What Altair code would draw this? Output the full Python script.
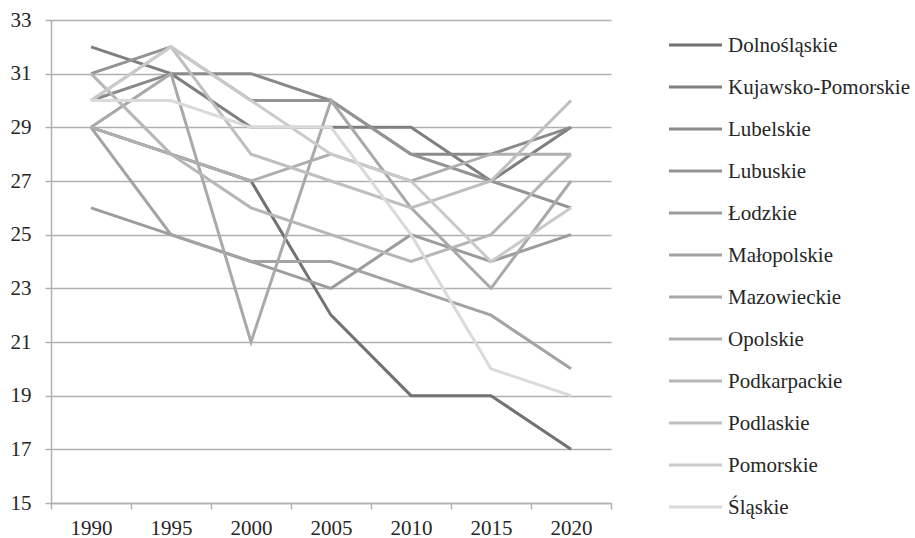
import altair as alt
import pandas as pd

years = ["1990", "1995", "2000", "2005", "2010", "2015", "2020"]

regions = [
    "Dolnośląskie", "Kujawsko-Pomorskie", "Lubelskie", "Lubuskie",
    "Łodzkie", "Małopolskie", "Mazowieckie", "Opolskie",
    "Podkarpackie", "Podlaskie", "Pomorskie", "Śląskie",
]

dolnoslaskie = [29, 28, 27, 22, 19, 19, 17]
kujawsko_pomorskie = [32, 31, 29, 29, 29, 27, 29]
lubelskie = [30, 31, 31, 30, 28, 28, 29]
lubuskie = [31, 32, 30, 30, 28, 27, 26]
lodzkie = [26, 25, 24, 23, 25, 24, 25]
malopolskie = [29, 25, 24, 24, 23, 22, 20]
mazowieckie = [29, 31, 21, 30, 26, 23, 27]
opolskie = [29, 28, 27, 28, 27, 28, 28]
podkarpackie = [31, 28, 26, 25, 24, 25, 28]
podlaskie = [30, 32, 28, 27, 26, 27, 30]
pomorskie = [30, 32, 30, 28, 27, 24, 26]
slaskie = [30, 30, 29, 29, 25, 20, 19]

series = [
    dolnoslaskie, kujawsko_pomorskie, lubelskie, lubuskie, lodzkie,
    malopolskie, mazowieckie, opolskie, podkarpackie, podlaskie,
    pomorskie, slaskie,
]

greys = [
    "#727272", "#7f7f7f", "#8a8a8a", "#939393", "#9c9c9c", "#a3a3a3",
    "#a9a9a9", "#afafaf", "#b6b6b6", "#bfbfbf", "#cacaca", "#dadada",
]

y_ticks = list(range(15, 34, 2))

rows = [
    {"Rok": y, "Województwo": r, "Wartość": v}
    for r, vals in zip(regions, series)
    for y, v in zip(years, vals)
]
df = pd.DataFrame(rows)
legend_df = pd.DataFrame({"Województwo": regions})

font = "Liberation Serif"
text_color = "#262626"

color = alt.Color(
    "Województwo:N",
    sort=regions,
    scale=alt.Scale(domain=regions, range=greys),
    legend=None,
)

lines = (
    alt.Chart(df)
    .mark_line(strokeWidth=3)
    .encode(
        x=alt.X(
            "Rok:O",
            sort=years,
            scale=alt.Scale(type="band", paddingInner=0, paddingOuter=0),
            axis=alt.Axis(
                title=None, labelAngle=0, tickBand="extent", tickSize=6,
                labelPadding=8, grid=False, domainWidth=1.5,
            ),
        ),
        y=alt.Y(
            "Wartość:Q",
            scale=alt.Scale(domain=[15, 33], nice=False, zero=False),
            axis=alt.Axis(
                title=None, values=y_ticks, tickSize=6, labelPadding=14,
                gridWidth=1.5, domainWidth=1.5,
            ),
        ),
        color=color,
        order=alt.Order("Rok:O"),
    )
)

# Legend: one row per voivodeship, placed to the right of the plot
legend_y = alt.Y(
    "Województwo:N",
    sort=regions,
    scale=alt.Scale(type="point", domain=regions, range=[25, 487], padding=0),
    axis=None,
)

legend_lines = (
    alt.Chart(legend_df)
    .mark_rule(strokeWidth=3)
    .encode(y=legend_y, x=alt.value(618), x2=alt.value(671), color=color)
)

legend_text = (
    alt.Chart(legend_df)
    .mark_text(
        align="left", baseline="middle", font=font, fontSize=21,
        color=text_color, dy=1,
    )
    .encode(y=legend_y, x=alt.value(677), text="Województwo:N")
)

chart = (
    alt.layer(lines, legend_lines, legend_text)
    .resolve_scale(y="independent")
    .properties(
        width=560, height=483,
        autosize=alt.AutoSizeParams(type="none"),
        padding={"left": 51, "top": 20, "right": 304, "bottom": 35},
    )
    .configure(font=font)
    .configure_view(stroke=None)
    .configure_axis(
        labelFont=font, labelFontSize=21, labelColor=text_color,
        domainColor="#b0b0b0", tickColor="#b0b0b0", gridColor="#b0b0b0",
        tickWidth=1.5,
    )
)

chart.save("out.html", embed_options={"renderer": "svg", "actions": False})
